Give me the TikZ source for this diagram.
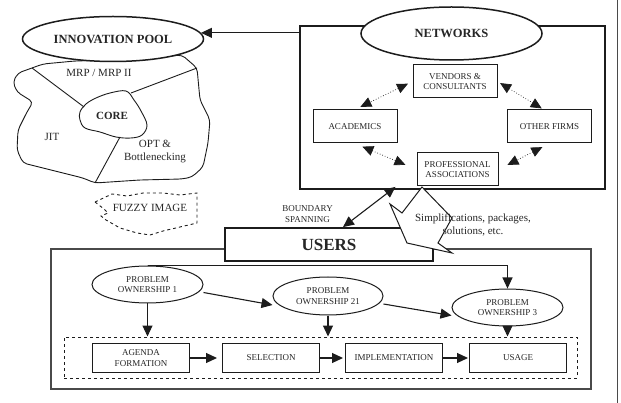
\documentclass[tikz,border=0pt]{standalone}
\usepackage{fontspec}
\setmainfont{Liberation Serif}
\usetikzlibrary{arrows.meta,positioning,shapes.geometric}
\definecolor{linea}{HTML}{1C1C1C}
\definecolor{grisl}{HTML}{4A4A4A}
\definecolor{texto}{HTML}{262626}
\newcommand{\boxfont}{\fontsize{9}{10.3}\selectfont}
\newcommand{\labelfont}{\fontsize{11}{13}\selectfont}
\tikzset{
  bigoval/.style={draw=linea,line width=1.5pt,ellipse,fill=white,inner sep=0pt,
    minimum width=181pt,minimum height=45pt,text=texto,font=\fontsize{12.5}{14}\selectfont\bfseries},
  netframe/.style={draw=linea,line width=1.8pt,minimum width=305pt,minimum height=163pt,inner sep=0pt},
  netbox/.style={draw=linea,line width=1pt,fill=white,minimum width=84pt,minimum height=33pt,
    align=center,inner sep=1pt,text=texto,font=\boxfont},
  userframe/.style={draw=grisl,line width=1.2pt,minimum width=540pt,minimum height=140pt,inner sep=0pt},
  usersbox/.style={draw=linea,line width=1.8pt,fill=white,minimum width=208pt,minimum height=33pt,
    inner sep=0pt,text=texto,font=\fontsize{17}{19}\selectfont\bfseries},
  probl/.style={draw=linea,line width=1pt,ellipse,fill=white,minimum width=111pt,minimum height=37pt,
    inner sep=0pt,align=center,text=texto,font=\boxfont},
  stagebox/.style={draw=linea,line width=1pt,minimum width=97pt,minimum height=29pt,
    align=center,inner sep=1pt,text=texto,font=\boxfont},
  stageframe/.style={draw=linea,line width=1pt,dashed,minimum width=513pt,minimum height=41pt,inner sep=0pt},
  lbl/.style={align=center,inner sep=0pt,text=texto,font=\labelfont},
  blob/.style={draw=linea,line width=.9pt},
  callout/.style={draw=linea,line width=1pt,fill=white,line join=miter},
  arrow/.style={-{Triangle[length=11pt,width=10pt]},line width=1.1pt,draw=linea},
  twoway/.style={{Triangle[length=11pt,width=10pt]}-{Triangle[length=11pt,width=10pt]},line width=1.1pt,draw=linea},
  dotarrow/.style={{Triangle[length=11pt,width=10pt]}-{Triangle[length=11pt,width=10pt]},
    dotted,line width=.7pt,draw=linea}
}

\begin{document}
\begin{tikzpicture}[x=1pt,y=-1pt]
\useasboundingbox (0,0) rectangle (621,403);
\draw[grisl,line width=.8pt] (617,0) -- (617,403);

% innovation pool: the outline, the core and the three areas
\draw[blob,rounded corners=4pt] (43,64) -- (75,61) -- (113,60) -- (150,58) -- (182,55)
  -- (197,68) -- (200,100) -- (210,120) -- (208,143) -- (203,167) -- (192,177) -- (182,179)
  -- (140,180) -- (95,183) -- (83,178) -- (23,163) -- (17,150) -- (18,130) -- (27,112)
  -- (33,102) -- (25,97) -- (17,92) -- (13,82) -- (18,73) -- (32,68) -- cycle;
\draw[blob,fill=white] plot[smooth cycle,tension=.6] coordinates {(80,112) (86,104) (96,98) (110,93)
  (126,91) (134,100) (141,111) (147,125) (142,135) (131,138) (116,137) (100,132) (85,128) (80,120)};
\draw[blob] (32,68) -- (84,107);
\draw[blob] (131,93) -- (197,68);
\draw[blob] (120,137) -- (95,183);
\node[lbl] at (99,73) {MRP / MRP II};
\node[lbl,font=\labelfont\bfseries] at (112,116) {CORE};
\node[lbl] at (52,137) {JIT};
\node[lbl] at (155,152) {OPT \&\\Bottlenecking};
\node[bigoval] (pool) at (113,39) {INNOVATION POOL};

% fuzzy image
\draw[blob,dashed] (95,202) -- (112,194) -- (127,196) -- (143,193) -- (163,193) -- (180,195)
  -- (197,193) -- (197,223) -- (180,227) -- (163,231) -- (150,235) -- (137,233) -- (120,228)
  -- (106,220) -- (101,216) -- (108,213) -- (104,209) -- cycle;
\node[lbl] (fuzzy) at (150,208) {FUZZY IMAGE};

% networks
\node[netframe] (netw) at (452.5,107.5) {};
\node[bigoval,minimum height=53pt] (netlabel) at (451.5,33.5) {NETWORKS};
\node[netbox] (vend) at (455,81.5) {VENDORS \&\\CONSULTANTS};
\node[netbox] (acad) at (355,126.5) {ACADEMICS};
\node[netbox] (other) at (549.5,126.5) {OTHER FIRMS};
\node[netbox,minimum width=81pt] (prof) at (457.5,169.5) {PROFESSIONAL\\ASSOCIATIONS};
\draw[dotarrow,shorten <=5pt,shorten >=6pt] (vend.west) -- (acad.north);
\draw[dotarrow,shorten <=3pt,shorten >=2pt] (vend.east) -- ([xshift=-6pt]other.north);
\draw[dotarrow,shorten <=8pt,shorten >=12pt] (acad.south) -- (prof.west);
\draw[dotarrow,shorten <=8pt,shorten >=10pt] (other.south) -- (prof.east);
\draw[arrow] (netw.west |- pool.4) -- (pool.4);

% users
\node[userframe] (userarea) at (321,319) {};
\node[usersbox] (users) at (329,244.5) {USERS};
\draw[callout] (422,187) -- (402,213) -- (390,204) -- (407,243) -- (452,253) -- (438,243)
  -- (452,218) -- cycle;
\node[lbl] (simp) at (473,225) {Simplifications, packages,\\solutions, etc.};
\node[lbl,font=\boxfont] (bspan) at (307.5,214) {BOUNDARY\\SPANNING};
\draw[twoway] ([xshift=14pt]users.north) -- ([xshift=-57pt,yshift=3pt]netw.south);

\node[probl] (po1) at (147.5,284.5) {PROBLEM\\OWNERSHIP 1};
\node[probl,minimum width=110pt,minimum height=38pt] (po21) at (328,296) {PROBLEM\\OWNERSHIP 21};
\node[probl] (po3) at (507.5,307.5) {PROBLEM\\OWNERSHIP 3};

\node[stageframe] (stages) at (320.5,357.5) {};
\node[stagebox] (agenda) at (141,358) {AGENDA\\FORMATION};
\node[stagebox,right=32pt of agenda] (sel) {SELECTION};
\node[stagebox,right=25pt of sel] (impl) {IMPLEMENTATION};
\node[stagebox,right=26pt of impl] (usage) {USAGE};

\draw[arrow] (po1.north) -| (po3.north);
\draw[arrow] ([yshift=-8pt]po1.east) -- ([yshift=-9pt]po21.west);
\draw[arrow] ([yshift=-8pt]po21.east) -- ([yshift=-8pt]po3.west);
\draw[arrow] (po1.south) -- (po1.south |- stages.north);
\draw[arrow] (po21.south) -- (po21.south |- stages.north);
\draw[arrow] (po3.south) -- (po3.south |- stages.north);
\draw[arrow,shorten >=5pt] (agenda) -- (sel);
\draw[arrow,shorten >=2pt] (sel) -- (impl);
\draw[arrow,shorten >=1pt] (impl) -- (usage);
\end{tikzpicture}
\end{document}
